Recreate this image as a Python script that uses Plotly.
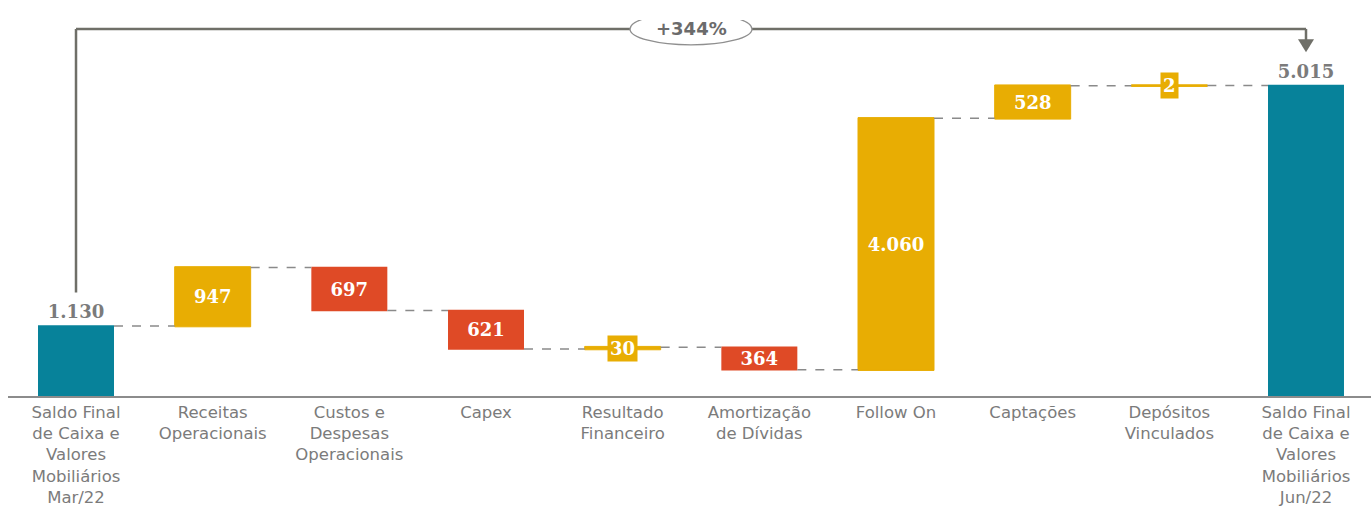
import plotly.graph_objects as go

# ---- data ----
categories = [
    "Saldo Final<br>de Caixa e<br>Valores<br>Mobiliários<br>Mar/22",
    "Receitas<br>Operacionais",
    "Custos e<br>Despesas<br>Operacionais",
    "Capex",
    "Resultado<br>Financeiro",
    "Amortização<br>de Dívidas",
    "Follow On",
    "Captações",
    "Depósitos<br>Vinculados",
    "Saldo Final<br>de Caixa e<br>Valores<br>Mobiliários<br>Jun/22",
]
values = [1130, 947, -697, -621, 30, -364, 4060, 528, 2, 5015]
measures = ["absolute", "relative", "relative", "relative", "relative",
            "relative", "relative", "relative", "relative", "absolute"]
growth_pct = (values[-1] / values[0] - 1) * 100

# ---- styles ----
TEAL = "#07829A"
YELLOW = "#E8AD03"
RED = "#DF4A26"
GRAY_TXT = "#7b7b7b"
BRACKET = "#6f6f68"
VAL_FONT = "DejaVu Serif"
CAT_FONT = "DejaVu Sans"


def fmt(v):
    return f"{abs(v):,}".replace(",", ".")


x = list(range(len(categories)))
small = [m == "relative" and abs(v) < 100 for m, v in zip(measures, values)]
texts = ["" if s else fmt(v) for v, s in zip(values, small)]
textpos = ["outside" if m == "absolute" else ("none" if s else "inside")
           for m, s in zip(measures, small)]

fig = go.Figure()
fig.add_trace(go.Waterfall(
    x=x, y=values, measure=measures,
    text=texts, textposition=textpos, textangle=0,
    constraintext="none", cliponaxis=False,
    insidetextanchor="middle",
    insidetextfont=dict(family=VAL_FONT, size=18, color="white", weight="bold"),
    outsidetextfont=dict(family=VAL_FONT, size=18, color=GRAY_TXT, weight="bold"),
    increasing=dict(marker=dict(color=YELLOW, line=dict(color=YELLOW, width=1))),
    decreasing=dict(marker=dict(color=RED, line=dict(color=RED, width=0))),
    totals=dict(marker=dict(color=TEAL, line=dict(color=TEAL, width=0))),
    connector=dict(mode="between", line=dict(color="#8a8a8a", width=1.5, dash="dash")),
    hoverinfo="skip",
))

# labels for the very small bars, boxed in yellow
running = 0
annotations = []
for i, (m, v) in enumerate(zip(measures, values)):
    start = 0 if m == "absolute" else running
    end = v if m == "absolute" else running + v
    if small[i]:
        annotations.append(dict(
            x=i, y=(start + end) / 2, xref="x", yref="y", text=fmt(v),
            showarrow=False, bgcolor=YELLOW, borderpad=2,
            font=dict(family=VAL_FONT, size=18, color="white", weight="bold"),
        ))
    running = end

# bracket showing growth between first and last totals
BRACKET_Y = 5930
OFFSET = 540
shapes = [
    dict(type="line", xref="x", yref="y", x0=0, x1=0,
         y0=values[0] + OFFSET, y1=BRACKET_Y, line=dict(color=BRACKET, width=2.5)),
    dict(type="line", xref="x", yref="y", x0=0, x1=len(x) - 1,
         y0=BRACKET_Y, y1=BRACKET_Y, line=dict(color=BRACKET, width=2.5)),
    dict(type="line", xref="x", yref="y", x0=len(x) - 1, x1=len(x) - 1,
         y0=BRACKET_Y, y1=values[-1] + OFFSET + 100, line=dict(color=BRACKET, width=2.5)),
    dict(type="path", xref="x", yref="y", xsizemode="pixel", ysizemode="pixel",
         xanchor=len(x) - 1, yanchor=values[-1] + OFFSET,
         path="M-8,13 L8,13 L0,0 Z", fillcolor=BRACKET, line=dict(width=0)),
    dict(type="circle", xref="x", yref="y", xsizemode="pixel", ysizemode="pixel",
         xanchor=(len(x) - 1) / 2, yanchor=BRACKET_Y,
         x0=-61, x1=61, y0=-16, y1=16,
         fillcolor="white", line=dict(color="#8f8f8f", width=1.3)),
]
annotations.append(dict(
    x=(len(x) - 1) / 2, y=BRACKET_Y, xref="x", yref="y",
    text=f"+{growth_pct:.0f}%", showarrow=False,
    font=dict(family=CAT_FONT, size=18, color="#6b6b6b", weight="bold"),
))

fig.update_layout(
    width=1371, height=509,
    margin=dict(l=8, r=0, t=20, b=113, autoexpand=False),
    paper_bgcolor="white", plot_bgcolor="white",
    showlegend=False, waterfallgap=0.444,
    shapes=shapes, annotations=annotations,
    xaxis=dict(
        tickmode="array", tickvals=x, ticktext=categories,
        range=[-0.4976, 9.4756], showgrid=False, zeroline=False,
        showline=True, linecolor="#8c8c8c", linewidth=1.5,
        ticks="", automargin=False,
        tickfont=dict(family=CAT_FONT, size=16.5, color=GRAY_TXT),
    ),
    yaxis=dict(range=[0, 6074], visible=False, showgrid=False, zeroline=False),
)

fig.write_html("out.html")
